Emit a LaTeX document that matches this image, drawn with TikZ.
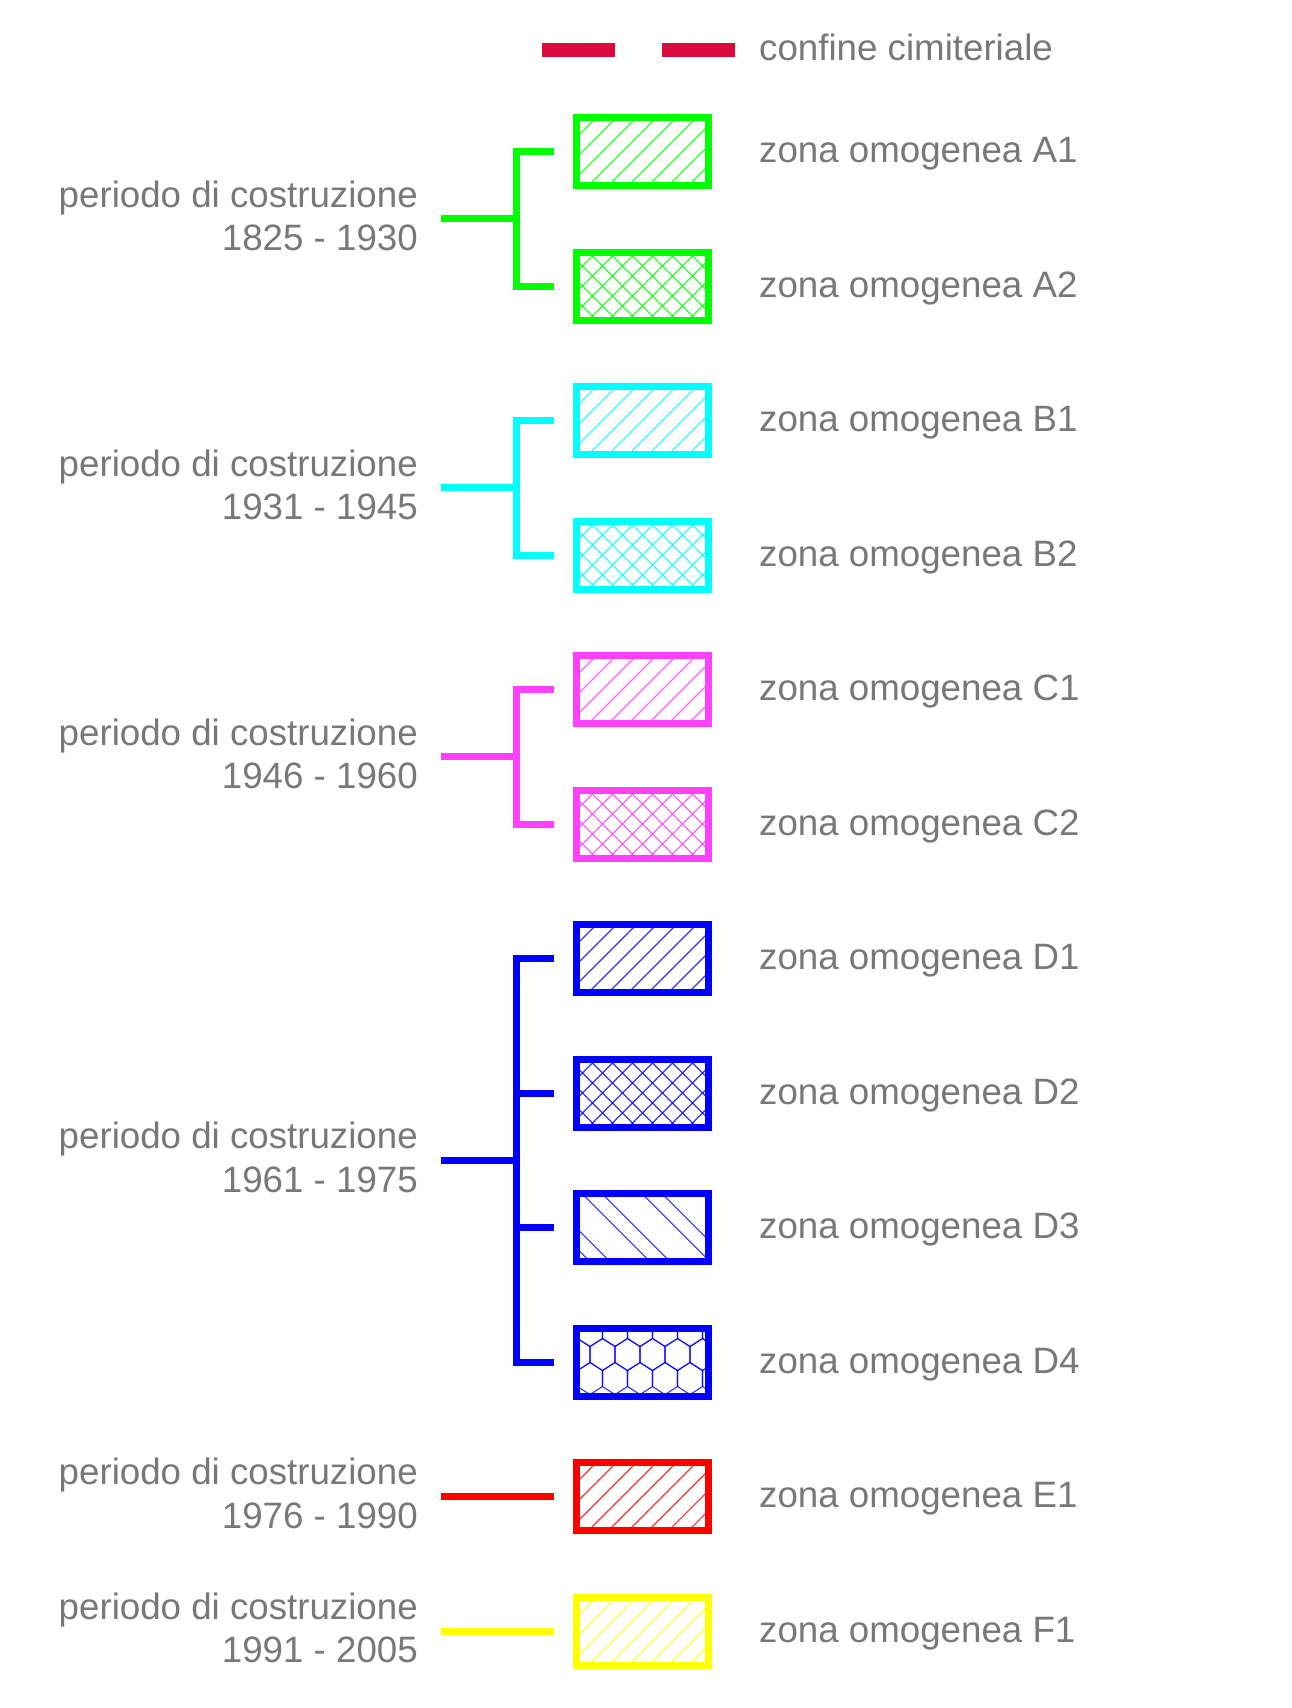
\documentclass[tikz,border=0pt]{standalone}
\usepackage{fontspec}
\setmainfont{Liberation Sans}
\usetikzlibrary{calc}
\definecolor{txt}{HTML}{787878}
\definecolor{cgreen}{HTML}{00FF00}
\definecolor{ccyan}{HTML}{00FFFF}
\definecolor{cmag}{HTML}{FF40FF}
\definecolor{cblue}{HTML}{0000FF}
\definecolor{cred}{HTML}{FF0000}
\definecolor{cyell}{HTML}{FFFF00}
\definecolor{crim}{HTML}{DC0A3C}
\begin{document}
\begin{tikzpicture}[x=1pt,y=-1pt,
  lab/.style={font=\fontsize{36.7}{43.5}\selectfont, text=txt, inner sep=0pt},
  per/.style={lab, align=right, anchor=east},
  zon/.style={lab, anchor=base west},
  box/.style={draw=#1, line width=7pt, minimum width=132pt, minimum height=68pt, inner sep=0pt, fill=white},
  hl/.style={line width=1.1pt, draw opacity=0.8},
  conn/.style={draw=#1, line width=7pt},
  hne/.style={path picture={\foreach \k in {-6,...,6} \draw[hl,#1] ($(path picture bounding box.center)+(\k*20-45,45)$) -- ++(90,-90);}},
  hx/.style={path picture={\foreach \k in {-6,...,6} {\draw[hl,#1] ($(path picture bounding box.center)+(\k*20-45,45)$) -- ++(90,-90);
      \draw[hl,#1] ($(path picture bounding box.center)+(\k*20-45,-45)$) -- ++(90,90);}}},
  hnwgap/.style={path picture={\foreach \m in {-3,...,3} {\draw[hl,#1] ($(path picture bounding box.center)+(\m*60-6.7-45,-45)$) -- ++(90,90);
      \draw[hl,#1] ($(path picture bounding box.center)+(\m*60-26.7-45,-45)$) -- ++(90,90);}}},
  hhex/.style={path picture={\foreach \r/\dx in {-1/12.5,0/0,1/12.5} \foreach \c in {-4,...,4} {
      \draw[hl,#1] ($(path picture bounding box.center)+(\c*25-40+\dx,-7.5+\r*24)$) +(0,-16) -- +(12.5,-8) -- +(12.5,8) -- +(0,16) -- +(-12.5,8) -- +(-12.5,-8) -- cycle;}}}
]
\useasboundingbox (0,0) rectangle (1291,1708);

% legend
\coordinate (dL) at (542,50);
\coordinate (dR) at (735,50);
\draw[crim, line width=14pt, dash pattern=on 73pt off 47pt] (dL) -- (dR);
\node[zon] (tL) at (759,60) {confine cimiteriale};

% boxes
\node[box=cgreen, hne=cgreen] (A1) at (642.5,151.5) {};
\node[box=cgreen, hx=cgreen]  (A2) at (642.5,286) {};
\node[box=ccyan, hne=ccyan]   (B1) at (642.5,420.5) {};
\node[box=ccyan, hx=ccyan]    (B2) at (642.5,555) {};
\node[box=cmag, hne=cmag]     (C1) at (642.5,689.5) {};
\node[box=cmag, hx=cmag]      (C2) at (642.5,824) {};
\node[box=cblue, hne=cblue]   (D1) at (642.5,958.5) {};
\node[box=cblue, hx=cblue]    (D2) at (642.5,1093) {};
\node[box=cblue, hnwgap=cblue] (D3) at (642.5,1227.5) {};
\node[box=cblue, hhex=cblue]  (D4) at (642.5,1362) {};
\node[box=cred, hne=cred]     (E1) at (642.5,1496.5) {};
\node[box=cyell, hne=cyell]   (F1) at (642.5,1631) {};

% zone labels
\node[zon] (tA1) at (759,151.5+11) {zona omogenea A1};
\node[zon] (tA2) at (759,286+11) {zona omogenea A2};
\node[zon] (tB1) at (759,420.5+11) {zona omogenea B1};
\node[zon] (tB2) at (759,555+11) {zona omogenea B2};
\node[zon] (tC1) at (759,689.5+11) {zona omogenea C1};
\node[zon] (tC2) at (759,824+11) {zona omogenea C2};
\node[zon] (tD1) at (759,958.5+11) {zona omogenea D1};
\node[zon] (tD2) at (759,1093+11) {zona omogenea D2};
\node[zon] (tD3) at (759,1227.5+11) {zona omogenea D3};
\node[zon] (tD4) at (759,1362+11) {zona omogenea D4};
\node[zon] (tE1) at (759,1496.5+11) {zona omogenea E1};
\node[zon] (tF1) at (759,1631+11) {zona omogenea F1};

% period labels
\node[per] (pA) at (418,218.75-3) {periodo di costruzione\\1825 - 1930};
\node[per] (pB) at (418,487.75-3) {periodo di costruzione\\1931 - 1945};
\node[per] (pC) at (418,756.75-3) {periodo di costruzione\\1946 - 1960};
\node[per] (pD) at (418,1160.25-3) {periodo di costruzione\\1961 - 1975};
\node[per] (pE) at (418,1496.5-3) {periodo di costruzione\\1976 - 1990};
\node[per] (pF) at (418,1631-3) {periodo di costruzione\\1991 - 2005};

% connectors
\coordinate (jA) at (516.5,218.75);  \coordinate (sA) at (441,218.75);
\draw[conn=cgreen] ([xshift=-19pt]A1.west) -| (jA) |- ([xshift=-19pt]A2.west);
\draw[conn=cgreen] (sA) -- (jA);

\coordinate (jB) at (516.5,487.75);  \coordinate (sB) at (441,487.75);
\draw[conn=ccyan] ([xshift=-19pt]B1.west) -| (jB) |- ([xshift=-19pt]B2.west);
\draw[conn=ccyan] (sB) -- (jB);

\coordinate (jC) at (516.5,756.75);  \coordinate (sC) at (441,756.75);
\draw[conn=cmag] ([xshift=-19pt]C1.west) -| (jC) |- ([xshift=-19pt]C2.west);
\draw[conn=cmag] (sC) -- (jC);

\coordinate (jD) at (516.5,1160.25); \coordinate (sD) at (441,1160.25);
\draw[conn=cblue] ([xshift=-19pt]D1.west) -| (jD) |- ([xshift=-19pt]D4.west);
\draw[conn=cblue] (jD |- D2.west) -- ([xshift=-19pt]D2.west);
\draw[conn=cblue] (jD |- D3.west) -- ([xshift=-19pt]D3.west);
\draw[conn=cblue] (sD) -- (jD);

\coordinate (sE) at (441,1496.5);
\draw[conn=cred] (sE) -- ([xshift=-19pt]E1.west);
\coordinate (sF) at (441,1631);
\draw[conn=cyell] (sF) -- ([xshift=-19pt]F1.west);
\end{tikzpicture}
\end{document}
